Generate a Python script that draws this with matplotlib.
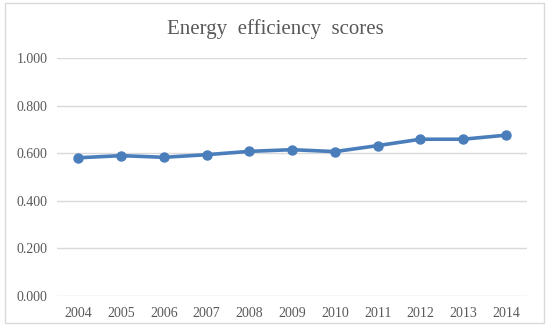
import matplotlib
matplotlib.use("Agg")
import matplotlib.pyplot as plt
from matplotlib.patches import Rectangle

# data
years = ["2004", "2005", "2006", "2007", "2008", "2009", "2010", "2011", "2012", "2013", "2014"]
scores = [0.581, 0.590, 0.583, 0.594, 0.608, 0.615, 0.607, 0.632, 0.659, 0.659, 0.676]
y_ticks = [0.0, 0.2, 0.4, 0.6, 0.8, 1.0]

text_color = "#595959"
line_color = "#4a7ebb"

plt.rcParams["font.family"] = ["Liberation Serif", "DejaVu Serif"]

fig = plt.figure(figsize=(5.5, 3.32), dpi=100)
ax = fig.add_axes([0.1036, 0.1084, 0.855, 0.7166])

x = list(range(len(years)))
ax.plot(x, scores, color=line_color, linewidth=2.6, marker="o", markersize=6.5,
        markerfacecolor=line_color, markeredgecolor=line_color, zorder=3)

ax.set_xlim(-0.5, len(years) - 0.5)
ax.set_ylim(0, 1.0)
ax.set_xticks(x)
ax.set_xticklabels(years)
ax.set_yticks(y_ticks)
ax.set_yticklabels([f"{v:.3f}" for v in y_ticks])

ax.grid(axis="y", color="#d9d9d9", linewidth=1.0)
ax.set_axisbelow(True)
for s in ax.spines.values():
    s.set_visible(False)
ax.tick_params(length=0, colors=text_color, labelsize=10)
ax.tick_params(axis="x", pad=8)
ax.tick_params(axis="y", pad=7)

fig.text(0.5, 0.912, "Energy  efficiency  scores", ha="center", va="center",
         fontsize=15, color=text_color)

# light outer frame of the chart area
fig.patches.append(Rectangle((0.009, 0.027), 0.98, 0.963, transform=fig.transFigure,
                             fill=False, edgecolor="#d9d9d9", linewidth=1.0))

fig.savefig("out.png", dpi=100, facecolor="white")
